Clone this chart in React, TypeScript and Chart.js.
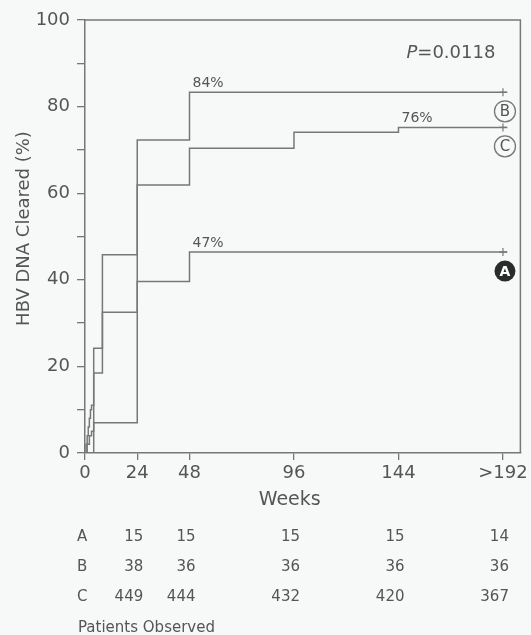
import { useEffect, useRef } from 'react';
import { Chart, registerables } from 'chart.js';

Chart.register(...registerables);

// ---- data ----
const weekTicks = [0, 24, 48, 96, 144, 192];
const weekTickLabels = ['0', '24', '48', '96', '144', '>192'];

const weeksA = [0, 4, 24, 48, 192, 194];
const clearedA = [0, 7, 39.6, 46.4, 46.4, 46.4];
const weeksB = [0, 0.5, 1, 1.5, 2, 2.5, 3, 4, 8, 24, 48, 192, 194];
const clearedB = [0, 2, 4, 6, 8, 10, 11, 24.2, 45.8, 72.3, 83.3, 83.3, 83.3];
const weeksC = [0, 1, 2, 3, 4, 8, 24, 48, 96, 144, 192, 194];
const clearedC = [0, 2, 4, 5, 18.5, 32.5, 61.9, 70.4, 74.1, 75.2, 75.2, 75.2];

const groupNames = ['A', 'B', 'C'];
const observedWeeks = [24, 48, 96, 144, 192];
const observedA = [15, 15, 15, 15, 14];
const observedB = [38, 36, 36, 36, 36];
const observedC = [449, 444, 432, 420, 367];

const rateLabels = ['47%', '84%', '76%'];
const rateLabelWeeks = [48, 48, 144];
const censorWeek = 192;
const pValueText = '=0.0118';

const FONT = "'DejaVu Sans', 'Liberation Sans', Arial, sans-serif";
const TEXT = '#555555';
const LINE = '#777777';
const BG = '#f7f8f8';

const toPoints = (xs: number[], ys: number[]) => xs.map((w, i) => ({ x: w, y: ys[i] }));

export default function App() {
  const ref = useRef<HTMLCanvasElement | null>(null);

  useEffect(() => {
    document.body.style.margin = '0';
    document.body.style.background = BG;
    const canvas = ref.current;
    if (!canvas) return;

    const series = [
      { name: groupNames[0], pts: toPoints(weeksA, clearedA), obs: observedA },
      { name: groupNames[1], pts: toPoints(weeksB, clearedB), obs: observedB },
      { name: groupNames[2], pts: toPoints(weeksC, clearedC), obs: observedC },
    ];

    const annotate = {
      id: 'annotate',
      beforeDraw(chart: any) {
        const { ctx, width, height } = chart;
        ctx.save();
        ctx.fillStyle = BG;
        ctx.fillRect(0, 0, width, height);
        ctx.restore();
      },
      afterDraw(chart: any) {
        const { ctx, chartArea: a, scales } = chart;
        const xs = scales.x;
        const ys = scales.y;
        ctx.save();
        // top & right frame
        ctx.strokeStyle = LINE;
        ctx.lineWidth = 1.5;
        ctx.beginPath();
        ctx.moveTo(a.left, a.top);
        ctx.lineTo(a.right, a.top);
        ctx.lineTo(a.right, a.bottom);
        ctx.stroke();

        // y title
        ctx.fillStyle = TEXT;
        ctx.font = `18px ${FONT}`;
        ctx.textAlign = 'center';
        ctx.textBaseline = 'middle';
        ctx.save();
        ctx.translate(24, (a.top + a.bottom) / 2 - 8);
        ctx.rotate(-Math.PI / 2);
        ctx.fillText('HBV DNA Cleared (%)', 0, 0);
        ctx.restore();

        // x title
        ctx.font = `19px ${FONT}`;
        ctx.fillText('Weeks', (a.left + a.right) / 2 - 13, a.bottom + 47);

        // P value
        ctx.font = `18px ${FONT}`;
        ctx.textAlign = 'left';
        const wRest = ctx.measureText(pValueText).width;
        ctx.font = `italic 18px ${FONT}`;
        const wP = ctx.measureText('P').width;
        const px0 = a.right - 25 - wRest - wP;
        const py = a.top + 33;
        ctx.fillText('P', px0, py);
        ctx.font = `18px ${FONT}`;
        ctx.fillText(pValueText, px0 + wP, py);

        // rate labels
        ctx.font = `14px ${FONT}`;
        ctx.textBaseline = 'alphabetic';
        series.forEach((s, i) => {
          const last = s.pts[s.pts.length - 1];
          ctx.fillText(rateLabels[i], xs.getPixelForValue(rateLabelWeeks[i]) + 3, ys.getPixelForValue(last.y) - 5);
        });

        // group markers
        series.forEach((s, i) => {
          const last = s.pts[s.pts.length - 1];
          const cx = xs.getPixelForValue(censorWeek) + 2;
          const cy = ys.getPixelForValue(last.y) + 19;
          ctx.beginPath();
          ctx.arc(cx, cy, 10.5, 0, Math.PI * 2);
          if (i === 0) {
            ctx.fillStyle = '#2b2b2b';
            ctx.fill();
            ctx.fillStyle = '#ffffff';
            ctx.font = `bold 14px ${FONT}`;
          } else {
            ctx.fillStyle = BG;
            ctx.fill();
            ctx.lineWidth = 1.3;
            ctx.strokeStyle = LINE;
            ctx.stroke();
            ctx.fillStyle = TEXT;
            ctx.font = `15px ${FONT}`;
          }
          ctx.textAlign = 'center';
          ctx.textBaseline = 'middle';
          ctx.fillText(s.name, cx, cy + 1);
        });

        // patients observed table
        ctx.fillStyle = TEXT;
        ctx.font = `15px ${FONT}`;
        ctx.textBaseline = 'middle';
        series.forEach((s, i) => {
          const ry = a.bottom + 84 + i * 30;
          ctx.textAlign = 'left';
          ctx.fillText(s.name, a.left - 8, ry);
          ctx.textAlign = 'right';
          observedWeeks.forEach((w, j) => {
            ctx.fillText(String(s.obs[j]), xs.getPixelForValue(w) + 6, ry);
          });
        });
        ctx.textAlign = 'left';
        ctx.fillText('Patients Observed', a.left - 7, a.bottom + 175);
        ctx.restore();
      },
    };

    const chart = new Chart(canvas, {
      type: 'line',
      data: {
        datasets: series.map((s) => ({
          label: s.name,
          data: s.pts,
          stepped: 'before',
          borderColor: LINE,
          borderWidth: 1.5,
          fill: false,
          pointStyle: 'cross',
          pointRadius: (c: any) => (c.raw && c.raw.x === censorWeek ? 4 : 0),
          pointBorderColor: LINE,
          pointBorderWidth: 1.2,
          pointHoverRadius: 0,
        })),
      },
      options: {
        responsive: false,
        animation: false,
        events: [],
        layout: { padding: { left: 0, top: 20, right: 8, bottom: 142 } },
        plugins: { legend: { display: false }, tooltip: { enabled: false }, title: { display: false } },
        scales: {
          x: {
            type: 'linear',
            min: 0,
            max: 200,
            afterFit: (s: any) => { s.height = 40; },
            afterBuildTicks: (s: any) => { s.ticks = weekTicks.map((v) => ({ value: v })); },
            ticks: {
              autoSkip: false,
              maxRotation: 0,
              padding: 3,
              color: TEXT,
              font: { family: FONT, size: 18 },
              callback: (v: any) => {
                const i = weekTicks.indexOf(Number(v));
                return i >= 0 ? weekTickLabels[i] : '';
              },
            },
            grid: { drawOnChartArea: false, color: LINE, tickLength: 7, lineWidth: 1.3 },
            border: { color: LINE, width: 1.5 },
          },
          y: {
            type: 'linear',
            min: 0,
            max: 100,
            afterFit: (s: any) => { s.width = 85; },
            ticks: {
              stepSize: 10,
              autoSkip: false,
              padding: 7,
              color: TEXT,
              font: { family: FONT, size: 18 },
              callback: (v: any) => (Number(v) % 20 === 0 ? String(v) : ''),
            },
            grid: { drawOnChartArea: false, color: LINE, tickLength: 8, lineWidth: 1.3 },
            border: { color: LINE, width: 1.5 },
          },
        },
      },
      plugins: [annotate],
    } as any);

    return () => chart.destroy();
  }, []);

  return (
    <div style={{ width: 531, height: 635, background: BG }}>
      <canvas ref={ref} width={531} height={635} style={{ display: 'block' }} />
    </div>
  );
}
